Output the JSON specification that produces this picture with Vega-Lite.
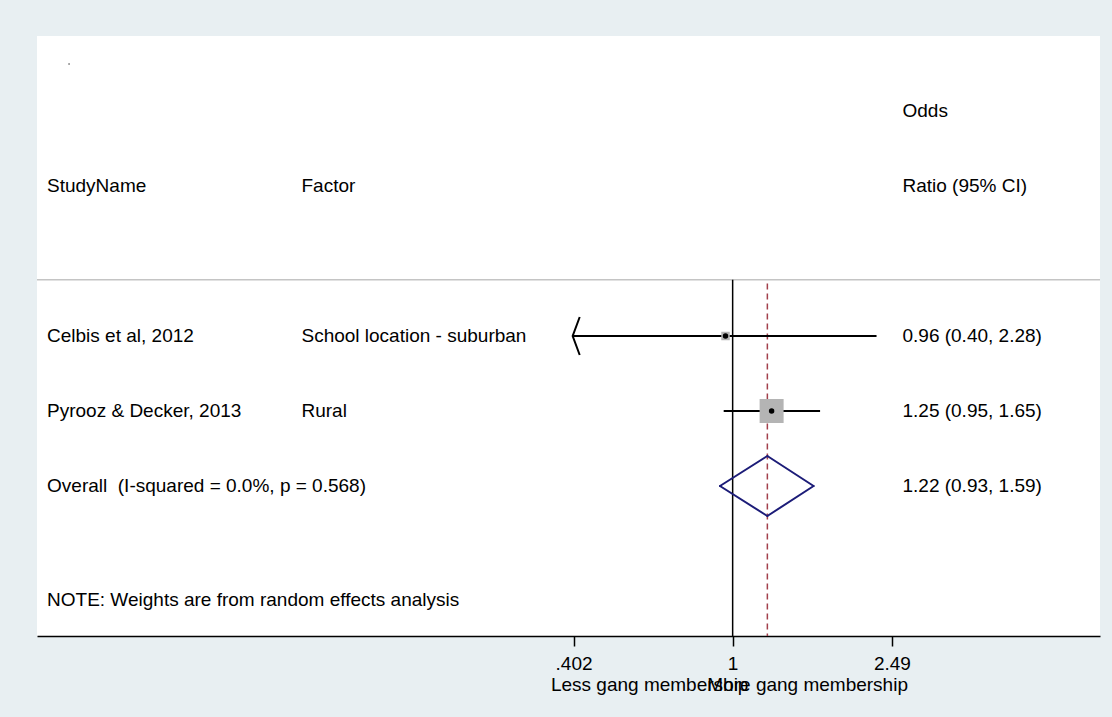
{
  "$schema": "https://vega.github.io/schema/vega-lite/v6.json",
  "width": 1063,
  "height": 600,
  "autosize": {"type": "none"},
  "padding": {"left": 37, "top": 36, "right": 12, "bottom": 81},
  "background": "#e8eff2",
  "datasets": {
    "studies": [
      {"study": "Celbis et al, 2012", "factor": "School location - suburban", "or": 0.96, "lci": 0.40, "uci": 2.28, "weight": 11.1, "label": "0.96 (0.40, 2.28)", "row": 1, "clipped": true},
      {"study": "Pyrooz & Decker, 2013", "factor": "Rural", "or": 1.25, "lci": 0.95, "uci": 1.65, "weight": 88.9, "label": "1.25 (0.95, 1.65)", "row": 2, "clipped": false}
    ],
    "overall": [
      {"name": "Overall\u00a0 (I-squared = 0.0%, p = 0.568)", "or": 1.22, "lci": 0.93, "uci": 1.59, "label": "1.22 (0.93, 1.59)", "row": 3}
    ],
    "blank": [{}]
  },
  "layer": [
    {
      "data": {"name": "blank"},
      "mark": {"type": "rule", "color": "#c4c4c4", "strokeWidth": 1.5},
      "encoding": {
        "y": {"datum": 0.25, "type": "quantitative", "scale": {"domain": [-3, 5], "reverse": true, "nice": false, "zero": false}}
      }
    },
    {
      "data": {"name": "blank"},
      "mark": {"type": "rule", "color": "black", "strokeWidth": 1.5},
      "encoding": {
        "x": {"datum": 1, "type": "quantitative", "title": null,
              "scale": {"type": "log", "domain": [0.0186, 8.2], "nice": false},
              "axis": {"values": [0.402, 1, 2.49], "labelExpr": "datum.value < 0.5 ? '.402' : datum.value < 1.5 ? '1' : '2.49'", "title": null, "labelFlush": false, "labelOverlap": false}},
        "y": {"datum": 0.25, "type": "quantitative"},
        "y2": {"datum": 5}
      }
    },
    {
      "data": {"name": "overall"},
      "mark": {"type": "rule", "color": "#a2404c", "strokeWidth": 1.5, "strokeDash": [6, 4]},
      "encoding": {
        "x": {"field": "or", "type": "quantitative", "title": null},
        "y": {"datum": 0.3, "type": "quantitative"},
        "y2": {"datum": 5}
      }
    },
    {
      "data": {"name": "studies"},
      "mark": {"type": "rule", "color": "black", "strokeWidth": 2},
      "encoding": {
        "x": {"field": "lci", "type": "quantitative", "title": null},
        "x2": {"field": "uci"},
        "y": {"field": "row", "type": "quantitative", "title": null}
      }
    },
    {
      "data": {"name": "studies"},
      "mark": {"type": "point", "shape": "square", "filled": true, "color": "#b4b4b4", "opacity": 1},
      "encoding": {
        "x": {"field": "or", "type": "quantitative", "title": null},
        "y": {"field": "row", "type": "quantitative", "title": null},
        "size": {"field": "weight", "type": "quantitative", "scale": {"domain": [0, 100], "range": [0, 648], "zero": true}, "legend": null}
      }
    },
    {
      "data": {"name": "studies"},
      "mark": {"type": "point", "shape": "circle", "filled": true, "color": "black", "opacity": 1, "size": 30},
      "encoding": {
        "x": {"field": "or", "type": "quantitative", "title": null},
        "y": {"field": "row", "type": "quantitative", "title": null}
      }
    },
    {
      "data": {"name": "studies"},
      "transform": [{"filter": "datum.clipped"}],
      "mark": {"type": "point", "shape": "M0.37,-1L0,0L0.37,1", "filled": false, "color": "black", "opacity": 1, "size": 1444, "strokeWidth": 2},
      "encoding": {
        "x": {"field": "lci", "type": "quantitative", "title": null},
        "y": {"field": "row", "type": "quantitative", "title": null}
      }
    },
    {
      "data": {"name": "overall"},
      "mark": {"type": "rule", "color": "#1c1c78", "strokeWidth": 2, "strokeCap": "round", "y2Offset": -30},
      "encoding": {
        "x": {"field": "lci", "type": "quantitative", "title": null},
        "x2": {"field": "or"},
        "y": {"field": "row", "type": "quantitative", "title": null},
        "y2": {"field": "row"}
      }
    },
    {
      "data": {"name": "overall"},
      "mark": {"type": "rule", "color": "#1c1c78", "strokeWidth": 2, "strokeCap": "round", "y2Offset": 30},
      "encoding": {
        "x": {"field": "lci", "type": "quantitative", "title": null},
        "x2": {"field": "or"},
        "y": {"field": "row", "type": "quantitative", "title": null},
        "y2": {"field": "row"}
      }
    },
    {
      "data": {"name": "overall"},
      "mark": {"type": "rule", "color": "#1c1c78", "strokeWidth": 2, "strokeCap": "round", "yOffset": -30},
      "encoding": {
        "x": {"field": "or", "type": "quantitative", "title": null},
        "x2": {"field": "uci"},
        "y": {"field": "row", "type": "quantitative", "title": null},
        "y2": {"field": "row"}
      }
    },
    {
      "data": {"name": "overall"},
      "mark": {"type": "rule", "color": "#1c1c78", "strokeWidth": 2, "strokeCap": "round", "yOffset": 30},
      "encoding": {
        "x": {"field": "or", "type": "quantitative", "title": null},
        "x2": {"field": "uci"},
        "y": {"field": "row", "type": "quantitative", "title": null},
        "y2": {"field": "row"}
      }
    },
    {
      "data": {"name": "studies"},
      "mark": {"type": "text"},
      "encoding": {
        "x": {"datum": 0.0197, "type": "quantitative"},
        "y": {"field": "row", "type": "quantitative", "title": null},
        "text": {"field": "study"}
      }
    },
    {
      "data": {"name": "studies"},
      "mark": {"type": "text"},
      "encoding": {
        "x": {"datum": 0.0846, "type": "quantitative"},
        "y": {"field": "row", "type": "quantitative", "title": null},
        "text": {"field": "factor"}
      }
    },
    {
      "data": {"name": "studies"},
      "mark": {"type": "text"},
      "encoding": {
        "x": {"datum": 2.645, "type": "quantitative"},
        "y": {"field": "row", "type": "quantitative", "title": null},
        "text": {"field": "label"}
      }
    },
    {
      "data": {"name": "overall"},
      "mark": {"type": "text"},
      "encoding": {
        "x": {"datum": 0.0197, "type": "quantitative"},
        "y": {"field": "row", "type": "quantitative", "title": null},
        "text": {"field": "name"}
      }
    },
    {
      "data": {"name": "overall"},
      "mark": {"type": "text"},
      "encoding": {
        "x": {"datum": 2.645, "type": "quantitative"},
        "y": {"field": "row", "type": "quantitative", "title": null},
        "text": {"field": "label"}
      }
    },
    {
      "data": {"name": "blank"},
      "mark": {"type": "text", "text": "StudyName"},
      "encoding": {"x": {"datum": 0.0197, "type": "quantitative"}, "y": {"datum": -1, "type": "quantitative"}}
    },
    {
      "data": {"name": "blank"},
      "mark": {"type": "text", "text": "Factor"},
      "encoding": {"x": {"datum": 0.0846, "type": "quantitative"}, "y": {"datum": -1, "type": "quantitative"}}
    },
    {
      "data": {"name": "blank"},
      "mark": {"type": "text", "text": "Odds"},
      "encoding": {"x": {"datum": 2.645, "type": "quantitative"}, "y": {"datum": -2, "type": "quantitative"}}
    },
    {
      "data": {"name": "blank"},
      "mark": {"type": "text", "text": "Ratio (95% CI)"},
      "encoding": {"x": {"datum": 2.645, "type": "quantitative"}, "y": {"datum": -1, "type": "quantitative"}}
    },
    {
      "data": {"name": "blank"},
      "mark": {"type": "text", "text": "NOTE: Weights are from random effects analysis"},
      "encoding": {"x": {"datum": 0.0197, "type": "quantitative"}, "y": {"datum": 4.52, "type": "quantitative"}}
    },
    {
      "data": {"name": "blank"},
      "mark": {"type": "text", "text": "Less gang membership", "align": "center"},
      "encoding": {"x": {"datum": 0.6217, "type": "quantitative"}, "y": {"datum": 5.653, "type": "quantitative"}}
    },
    {
      "data": {"name": "blank"},
      "mark": {"type": "text", "text": "More gang membership", "align": "center"},
      "encoding": {"x": {"datum": 1.5366, "type": "quantitative"}, "y": {"datum": 5.653, "type": "quantitative"}}
    },
    {
      "data": {"name": "blank"},
      "mark": {"type": "point", "shape": "square", "filled": true, "color": "#666666", "opacity": 1, "size": 2},
      "encoding": {"x": {"datum": 0.02235, "type": "quantitative"}, "y": {"datum": -2.627, "type": "quantitative"}}
    }
  ],
  "config": {
    "view": {"fill": "white", "stroke": null},
    "axisY": {"disable": true},
    "axisX": {"domainColor": "black", "domainWidth": 1.5, "tickColor": "black", "tickWidth": 1.5, "tickSize": 10, "labelFont": "Liberation Sans", "labelFontSize": 19, "labelColor": "black", "labelPadding": 8, "grid": false},
    "text": {"font": "Liberation Sans", "fontSize": 19, "color": "black", "baseline": "middle", "align": "left"}
  }
}
